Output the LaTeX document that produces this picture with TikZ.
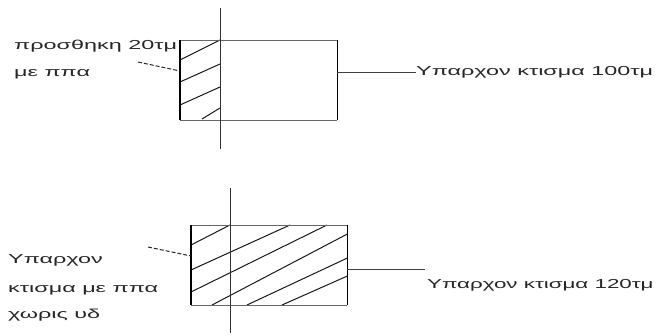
\documentclass[tikz,border=0pt]{standalone}
\usepackage{fontspec}
\setmainfont{Liberation Sans}[FakeStretch=1.8]
\newfontfamily\narrowfont{Liberation Sans}[FakeStretch=1.72]
\begin{document}
\begin{tikzpicture}[x=1pt,y=-1pt,
  lbl/.style={inner sep=0pt,anchor=base west,font=\fontsize{13}{13}\selectfont,text=black!85},
  thin edge/.style={draw=black!60,line width=0.9pt},
  thick edge/.style={draw=black,line width=1.6pt},
  axis/.style={draw=black!80,line width=0.9pt},
  hatch/.style={draw=black!90,line width=1pt},
  leader/.style={draw=black!85,line width=1pt,dash pattern=on 4pt off 2pt},
  conn/.style={draw=black!75,line width=0.8pt}]
\useasboundingbox (0,0) rectangle (660,336);
% ---------- top ----------
\node[minimum width=157pt,minimum height=80pt,inner sep=0pt,anchor=north west] (r1) at (180,40) {};
\draw[hatch] (r1.north west |- 0,60) -- (220,40);
\draw[hatch] (r1.west |- 0,82) -- (220,64);
\draw[hatch] (r1.west |- 0,105) -- (220,87);
\draw[hatch] (202,119) -- (220,108);
\draw[thin edge] (r1.north west) -- (r1.north east);
\draw[thin edge] (r1.south west) -- (r1.south east);
\draw[thick edge] (r1.north west) -- (r1.south west);
\draw[thick edge] (r1.north east) -- (r1.south east);
\coordinate (ax1a) at (220,8);
\coordinate (ax1b) at (220,149);
\draw[axis] (ax1a) -- (ax1b);
\node[lbl] (t1a) at (14,50) {προσθηκη 20τμ};
\node[lbl] (t1b) at (14,77) {με ππα};
\node[lbl] (t1r) at (416,76) {Υπαρχον κτισμα 100τμ};
\coordinate (l1) at (138,62);
\draw[leader] (l1) -- (r1.west |- 0,71);
\coordinate (c1) at (r1.east |- 0,72);
\draw[conn] (c1) -- (c1 -| t1r.west);
% ---------- bottom ----------
\node[minimum width=156pt,minimum height=80pt,inner sep=0pt,anchor=north west] (r2) at (191,225) {};
\draw[hatch] (r2.west |- 0,245) -- (230,225);
\draw[hatch] (r2.west |- 0,270) -- (290,225);
\draw[hatch] (r2.west |- 0,292) -- (327,225);
\draw[hatch] (212,305) -- (r2.east |- 0,234);
\draw[hatch] (247,305) -- (r2.east |- 0,258);
\draw[hatch] (282,305) -- (r2.east |- 0,276);
\draw[thin edge] (r2.north west) -- (r2.north east);
\draw[thin edge] (r2.south west) -- (r2.south east);
\draw[thick edge] (r2.north west) -- (r2.south west);
\draw[thick edge] (r2.north east) -- (r2.south east);
\coordinate (ax2a) at (230,188);
\coordinate (ax2b) at (230,333);
\draw[axis] (ax2a) -- (ax2b);
\node[lbl] (t2a) at (8,263) {Υπαρχον};
\node[lbl] (t2b) at (8,292) {κτισμα με ππα};
\node[lbl] (t2c) at (8,318) {χωρις υδ};
\node[lbl,font=\fontsize{13}{13}\narrowfont] (t2r) at (427,288) {Υπαρχον κτισμα 120τμ};
\coordinate (l2) at (148,247);
\draw[leader] (l2) -- (r2.west |- 0,256);
\coordinate (c2) at (r2.east |- 0,269);
\draw[conn] (c2) -- (425,269);
\end{tikzpicture}
\end{document}
